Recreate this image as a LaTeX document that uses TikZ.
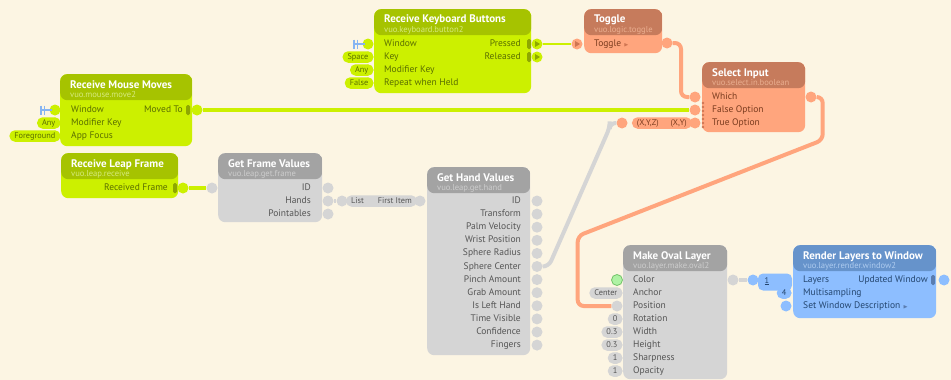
\documentclass[tikz,border=0pt]{standalone}
\usepackage{fontspec}
\setmainfont{PT Sans}
\usepackage{amssymb}
\usetikzlibrary{calc}
\definecolor{VuoBg}{HTML}{FCF5E3}
\definecolor{LimeBody}{HTML}{CCF000}
\definecolor{LimeHead}{HTML}{A6C300}
\definecolor{LimeText}{HTML}{5A6E00}
\definecolor{LimeSub}{HTML}{D6EA7E}
\definecolor{LimeDark}{HTML}{8EA700}
\definecolor{SalBody}{HTML}{FFA57D}
\definecolor{SalHead}{HTML}{C67B5C}
\definecolor{SalText}{HTML}{7A3B1E}
\definecolor{SalSub}{HTML}{EAAE90}
\definecolor{SalDark}{HTML}{CF7552}
\definecolor{GreyBody}{HTML}{D5D5D5}
\definecolor{GreyHead}{HTML}{A3A3A3}
\definecolor{GreyText}{HTML}{555555}
\definecolor{GreySub}{HTML}{CDCDCD}
\definecolor{BlueBody}{HTML}{8DBEFF}
\definecolor{BlueHead}{HTML}{6693CB}
\definecolor{BlueText}{HTML}{24466F}
\definecolor{BlueSub}{HTML}{ADCBEF}
\definecolor{BlueDark}{HTML}{5A7DB0}
\definecolor{PlugBlue}{HTML}{86B4F2}
\definecolor{ColorGreen}{HTML}{AEF2A4}
\definecolor{ColorRim}{HTML}{74C46A}
\newcommand{\portfont}{\fontsize{9.5}{11}\selectfont}
\newcommand{\evtri}[1]{{\tiny\textcolor{#1}{$\blacktriangleright$}}}
\tikzset{
  vuobox/.style={rectangle,rounded corners=7pt,anchor=north west,inner sep=0pt},
  vuohead/.style={path picture={\fill[#1] (path picture bounding box.north west)
      rectangle ([yshift=-26pt]path picture bounding box.north east);}},
  vuotitle/.style={anchor=base west,inner sep=0pt,text=white,font=\fontsize{11}{13}\selectfont\bfseries},
  vuosub/.style={anchor=base west,inner sep=0pt,font=\fontsize{8.6}{10}\selectfont},
  inlabel/.style={anchor=mid west,inner sep=0pt,font=\portfont},
  outlabel/.style={anchor=mid east,inner sep=0pt,font=\portfont},
  port/.style={circle,inner sep=0pt,minimum size=11pt},
  evport/.style={port,path picture={\fill[#1] ([xshift=-2pt,yshift=3pt]path picture bounding box.center)
      -- ++(5pt,-3pt) -- ++(-5pt,-3pt) -- cycle;}},
  evbar/.style={rectangle,rounded corners=1.5pt,inner sep=0pt,minimum width=4pt,minimum height=10pt},
  constpill/.style={rectangle,rounded corners=5.5pt,anchor=east,inner xsep=5pt,inner ysep=0pt,
      minimum height=11.5pt,font=\fontsize{8.3}{9}\selectfont},
  cable/.style={line width=4pt,rounded corners=6pt},
  evcable/.style={line width=1.4pt},
  plug/.pic={
    \draw[PlugBlue,line width=2.2pt] (-15,0) -- (-3,0);
    \draw[PlugBlue,line width=1.6pt] (-14,-4.5) -- (-14,4.5) (-10.5,-4.5) -- (-10.5,4.5);
  }
}
\begin{document}
\begin{tikzpicture}[x=1pt,y=-1pt]
  \fill[VuoBg] (0,0) rectangle (951,380);
  \useasboundingbox (0,0) rectangle (951,380);

  % Receive Keyboard Buttons
  \node[vuobox,fill=LimeBody,vuohead=LimeHead,minimum width=157pt,minimum height=84pt] (kbd) at (374,9) {};
  \node[vuotitle] (kbdTitle) at ([xshift=10pt,yshift=-14pt]kbd.north west) {Receive Keyboard Buttons};
  \node[vuosub,text=LimeSub] (kbdSub) at ([xshift=10pt,yshift=-23.5pt]kbd.north west) {vuo.keyboard.button2};
  \foreach \lbl [count=\i] in {Window,Key,Modifier Key,Repeat when Held}{
    \node[inlabel,text=LimeText] (kbdL\i) at (384,{31+13*\i}) {\lbl};
    \node[port,fill=LimeBody] (kbdIn\i) at (368,{31+13*\i}) {};
  }
  \foreach \lbl/\y [count=\i] in {Pressed/44,Released/57}{
    \node[outlabel,text=LimeText] (kbdR\i) at (521,\y) {\lbl};
    \node[evbar,fill=LimeDark] (kbdBar\i) at (529,\y) {};
    \node[evport=LimeDark,fill=LimeBody] (kbdOut\i) at (537,\y) {};
  }
  \pic at (kbdIn1.center) {plug};
  \node[constpill,fill=LimeBody,text=LimeText] (kbdC2) at ([xshift=5.5pt]kbdIn2.center) {Space};
  \node[constpill,fill=LimeBody,text=LimeText] (kbdC3) at ([xshift=5.5pt]kbdIn3.center) {Any};
  \node[constpill,fill=LimeBody,text=LimeText] (kbdC4) at ([xshift=5.5pt]kbdIn4.center) {False};

  % Toggle
  \node[vuobox,fill=SalBody,vuohead=SalHead,minimum width=78pt,minimum height=44pt] (tog) at (584,9) {};
  \node[vuotitle] (togTitle) at ([xshift=10pt,yshift=-14pt]tog.north west) {Toggle};
  \node[vuosub,text=SalSub] (togSub) at ([xshift=10pt,yshift=-23.5pt]tog.north west) {vuo.logic.toggle};
  \node[inlabel,text=SalText] (togL1) at (594,44) {Toggle \evtri{SalDark}};
  \node[evport=SalDark,fill=SalBody] (togIn) at (577,44) {};
  \node[port,fill=SalBody] (togOut) at (667,43) {};

  % Select Input
  \node[vuobox,fill=SalBody,vuohead=SalHead,minimum width=103pt,minimum height=70pt] (sel) at (702,62) {};
  \node[vuotitle] (selTitle) at ([xshift=10pt,yshift=-14pt]sel.north west) {Select Input};
  \node[vuosub,text=SalSub] (selSub) at ([xshift=10pt,yshift=-23.5pt]sel.north west) {vuo.select.in.boolean};
  \node[constpill,fill=SalBody,text=SalText] (xyConv) at (692,123) {(X,Y,Z)\hspace{12pt}(X,Y)};
  \foreach \lbl [count=\i] in {Which,False Option,True Option}{
    \node[inlabel,text=SalText] (selL\i) at (712,{84+13*\i}) {\lbl};
    \node[port,fill=SalBody] (selIn\i) at (695,{84+13*\i}) {};
  }
  \foreach \k in {0,...,6}
    \fill[SalDark] (703,{103+4*\k}) circle (1.3);
  \node[port,fill=SalBody] (xyIn) at (622,123) {};
  \node[port,fill=SalBody] (selOut) at (811,97) {};

  % Receive Mouse Moves
  \node[vuobox,fill=LimeBody,vuohead=LimeHead,minimum width=132pt,minimum height=72pt] (ms) at (60,74) {};
  \node[vuotitle] (msTitle) at ([xshift=10pt,yshift=-14pt]ms.north west) {Receive Mouse Moves};
  \node[vuosub,text=LimeSub] (msSub) at ([xshift=10pt,yshift=-23.5pt]ms.north west) {vuo.mouse.move2};
  \foreach \lbl [count=\i] in {Window,Modifier Key,App Focus}{
    \node[inlabel,text=LimeText] (msL\i) at (71,{97+13*\i}) {\lbl};
    \node[port,fill=LimeBody] (msIn\i) at (55,{97+13*\i}) {};
  }
  \node[outlabel,text=LimeText] (msR1) at (183,110) {Moved To};
  \node[evbar,fill=LimeDark] (msBar) at (188,110) {};
  \node[port,fill=LimeBody] (msOut) at (197,110) {};
  \pic at (msIn1.center) {plug};
  \node[constpill,fill=LimeBody,text=LimeText] (msC2) at ([xshift=5.5pt]msIn2.center) {Any};
  \node[constpill,fill=LimeBody,text=LimeText] (msC3) at ([xshift=5.5pt]msIn3.center) {Foreground};

  % Receive Leap Frame
  \node[vuobox,fill=LimeBody,vuohead=LimeHead,minimum width=117pt,minimum height=45pt] (leap) at (61,153) {};
  \node[vuotitle] (leapTitle) at ([xshift=10pt,yshift=-14pt]leap.north west) {Receive Leap Frame};
  \node[vuosub,text=LimeSub] (leapSub) at ([xshift=10pt,yshift=-23.5pt]leap.north west) {vuo.leap.receive};
  \node[outlabel,text=LimeText] (leapR1) at (168,188) {Received Frame};
  \node[evbar,fill=LimeDark] (leapBar) at (175,188) {};
  \node[port,fill=LimeBody] (leapOut) at (183,188) {};

  % Get Frame Values
  \node[vuobox,fill=GreyBody,vuohead=GreyHead,minimum width=104pt,minimum height=69pt] (frm) at (218,153) {};
  \node[vuotitle] (frmTitle) at ([xshift=10pt,yshift=-14pt]frm.north west) {Get Frame Values};
  \node[vuosub,text=GreySub] (frmSub) at ([xshift=10pt,yshift=-23.5pt]frm.north west) {vuo.leap.get.frame};
  \node[port,fill=GreyBody] (frmIn) at (212,188) {};
  \foreach \lbl [count=\i] in {ID,Hands,Pointables}{
    \node[outlabel,text=GreyText] (frmR\i) at (311,{175+13*\i}) {\lbl};
    \node[port,fill=GreyBody] (frmOut\i) at (328,{175+13*\i}) {};
  }
  \node[constpill,fill=GreyBody,text=GreyText] (listConv) at (417,201) {List\hspace{14pt}First Item};
  \node[port,fill=GreyBody] (listIn) at (342,201) {};

  % Get Hand Values
  \node[vuobox,fill=GreyBody,vuohead=GreyHead,minimum width=103pt,minimum height=188pt] (hand) at (427,167) {};
  \node[vuotitle] (handTitle) at ([xshift=10pt,yshift=-14pt]hand.north west) {Get Hand Values};
  \node[vuosub,text=GreySub] (handSub) at ([xshift=10pt,yshift=-23.5pt]hand.north west) {vuo.leap.get.hand};
  \node[port,fill=GreyBody] (handIn) at (420,201) {};
  \foreach \lbl [count=\i] in {ID,Transform,Palm Velocity,Wrist Position,Sphere Radius,Sphere Center,
      Pinch Amount,Grab Amount,Is Left Hand,Time Visible,Confidence,Fingers}{
    \node[outlabel,text=GreyText] (handR\i) at (521,{201+13.1*(\i-1)}) {\lbl};
    \node[port,fill=GreyBody] (handOut\i) at (537,{201+13.1*(\i-1)}) {};
  }

  % Make Oval Layer
  \node[vuobox,fill=GreyBody,vuohead=GreyHead,minimum width=104pt,minimum height=134pt] (ov) at (623,245) {};
  \node[vuotitle] (ovTitle) at ([xshift=10pt,yshift=-14pt]ov.north west) {Make Oval Layer};
  \node[vuosub,text=GreySub] (ovSub) at ([xshift=10pt,yshift=-23.5pt]ov.north west) {vuo.layer.make.oval2};
  \foreach \lbl [count=\i] in {Color,Anchor,Position,Rotation,Width,Height,Sharpness,Opacity}{
    \node[inlabel,text=GreyText] (ovL\i) at (633,{267+13*\i}) {\lbl};
    \node[port,fill=GreyBody] (ovIn\i) at (617,{267+13*\i}) {};
  }
  \node[port,fill=ColorGreen,draw=ColorRim,line width=0.8pt] (ovColor) at (ovIn1) {};
  \foreach \v/\i in {Center/2,0/4,0.3/5,0.3/6,1/7,1/8}
    \node[constpill,fill=GreyBody,text=GreyText] (ovC\i) at ([xshift=5.5pt]ovIn\i.center) {\v};
  \node[port,fill=GreyBody] (ovOut) at (733,280) {};

  % Render Layers to Window
  \node[vuobox,fill=BlueBody,vuohead=BlueHead,minimum width=143pt,minimum height=73pt] (rnd) at (793,245) {};
  \node[vuotitle] (rndTitle) at ([xshift=10pt,yshift=-14pt]rnd.north west) {Render Layers to Window};
  \node[vuosub,text=BlueSub] (rndSub) at ([xshift=10pt,yshift=-23.5pt]rnd.north west) {vuo.layer.render.window2};
  \foreach \lbl [count=\i] in {Layers,Multisampling,Set Window Description \evtri{BlueDark}}{
    \node[inlabel,text=BlueText] (rndL\i) at (803,{267+13*\i}) {\lbl};
    \node[port,fill=BlueBody] (rndIn\i) at (786,{267+13*\i}) {};
  }
  \node[outlabel,text=BlueText] (rndR1) at (928,280) {Updated Window};
  \node[evbar,fill=BlueDark] (rndBar) at (933,280) {};
  \node[port,fill=BlueBody] (rndOut) at (944,280) {};
  \node[rectangle,rounded corners=5pt,fill=BlueBody,minimum width=34pt,minimum height=17pt] (layDrawer) at (775,282) {};
  \node[inner sep=0pt,font=\fontsize{8.3}{9}\selectfont,text=BlueText] (layCount) at (767,281) {\underline{1}};
  \node[port,fill=BlueBody] (drawerIn) at (753,280) {};
  \node[constpill,fill=BlueBody,text=BlueText] (rndC2) at ([xshift=5.5pt]rndIn2.center) {4};

  % cables
  \draw[evcable,LimeBody] (kbdOut1) -- (togIn);
  \draw[cable,SalBody] (togOut) -| ($(togOut)!0.5!(selIn1)$) |- (selIn1);
  \draw[cable,LimeBody] (msOut) -- (selIn2);
  \draw[cable,LimeBody] (leapOut) -- (frmIn);
  \draw[cable,GreyBody] (frmOut2) -- (listIn);
  \draw[cable,GreyBody] (handOut6.east) -- ++(6,0) -- ++(61,-139) |- (xyIn);
  \draw[cable,SalBody] (selOut.east) -- ++(6,0) -- ++(0,43) -- ++(-245,96) |- (ovIn3);
  \draw[cable,GreyBody] (ovOut) -- (drawerIn);
\end{tikzpicture}
\end{document}
